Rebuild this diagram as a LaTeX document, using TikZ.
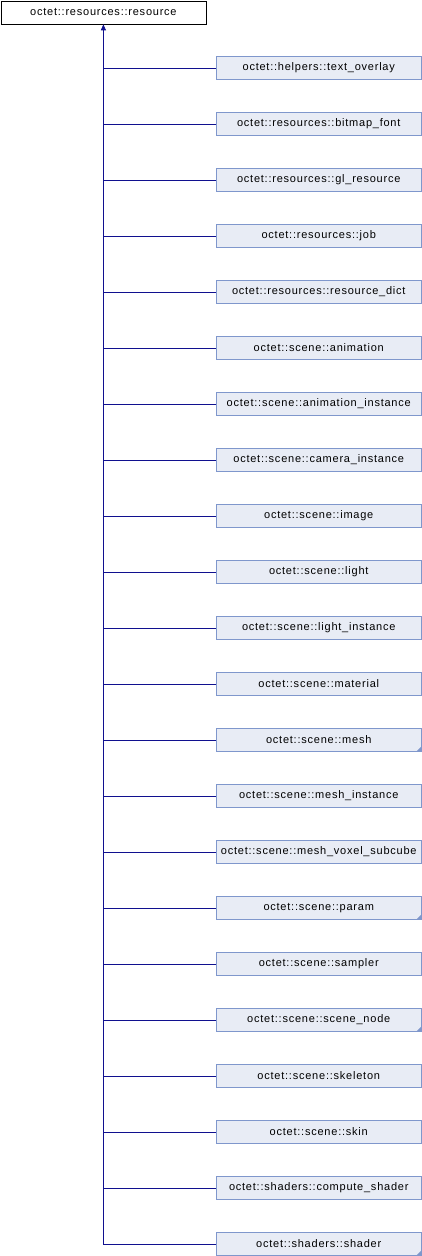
\documentclass[tikz,border=0pt]{standalone}
\usepackage{fontspec}
\setmainfont{Liberation Sans}[LetterSpace=7]
\usetikzlibrary{arrows.meta}
\definecolor{boxfill}{HTML}{E8ECF5}
\definecolor{boxline}{HTML}{7F97CC}
\definecolor{edgecol}{HTML}{10108F}
\begin{document}
\begin{tikzpicture}[x=1pt,y=-1pt,
  cls/.style={draw=boxline, fill=boxfill, minimum width=205.5pt, minimum height=23pt, inner sep=0pt, font=\fontsize{11}{13}\selectfont, line width=0.8pt},
  base/.style={draw=black, fill=white, minimum width=205pt, minimum height=23pt, inner sep=0pt, font=\fontsize{11}{13}\selectfont, line width=0.8pt},
  inh/.style={draw=edgecol, line width=0.9pt},
  more/.style={fill=boxline}]
\useasboundingbox (0,0) rectangle (422,1256);
\node[base, anchor=north west] (root) at (0.5,0.5) {octet::resources::resource};
\foreach \nm [count=\i from 0] in {octet::helpers::text\_overlay, octet::resources::bitmap\_font, octet::resources::gl\_resource, octet::resources::job, octet::resources::resource\_dict, octet::scene::animation, octet::scene::animation\_instance, octet::scene::camera\_instance, octet::scene::image, octet::scene::light, octet::scene::light\_instance, octet::scene::material, octet::scene::mesh, octet::scene::mesh\_instance, octet::scene::mesh\_voxel\_subcube, octet::scene::param, octet::scene::sampler, octet::scene::scene\_node, octet::scene::skeleton, octet::scene::skin, octet::shaders::compute\_shader, octet::shaders::shader} {
  \node[cls] (c\i) at (318.75, 68+56*\i) {\nm};
}
\foreach \i in {0,...,20} {
  \draw[inh] (c\i.west) -- (c\i.west -| root.south);
}
\draw[inh, -{Triangle[length=6pt,width=5pt]}] (c21.west) -| (root.south);
\foreach \i in {12,15,17,21} {
  \fill[more] ([xshift=-6pt]c\i.south east) -- (c\i.south east) -- ([yshift=6pt]c\i.south east) -- cycle;
}
\end{tikzpicture}
\end{document}
